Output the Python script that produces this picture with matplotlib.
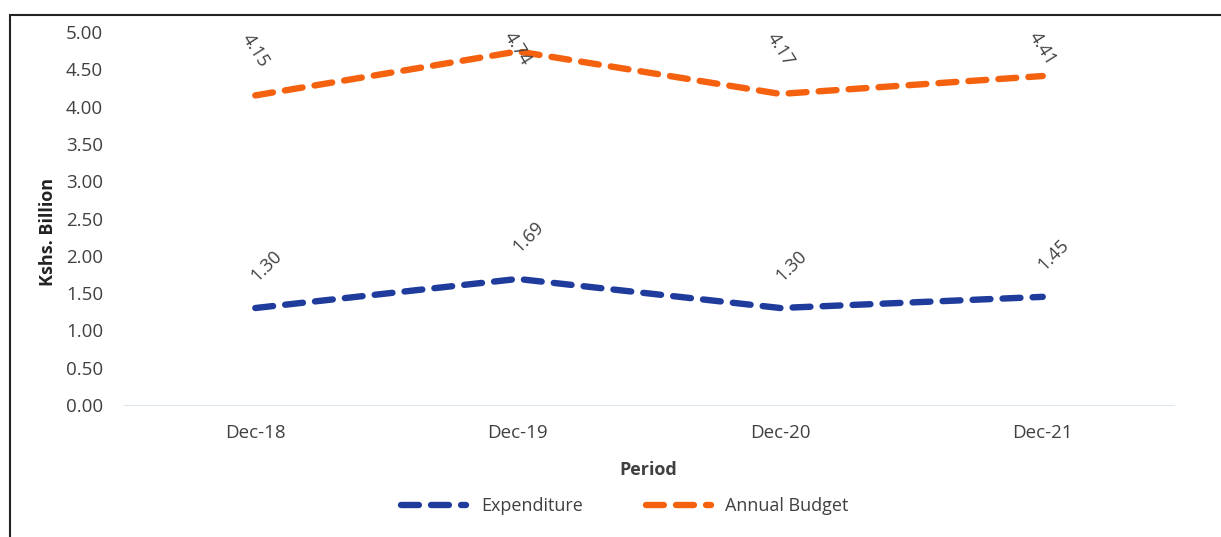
import matplotlib.pyplot as plt
from matplotlib.patches import Rectangle

periods = ['Dec-18', 'Dec-19', 'Dec-20', 'Dec-21']
expenditure = [1.30, 1.69, 1.30, 1.45]
budget = [4.15, 4.74, 4.17, 4.41]

blue = '#1f3c9c'
orange = '#f5620f'
grey = '#404040'

plt.rcParams['font.family'] = ['Open Sans', 'DejaVu Sans']

fig = plt.figure(figsize=(12.21, 5.37), dpi=100)
ax = fig.add_axes([0.1016, 0.2458, 0.8599, 0.6946])

x = list(range(len(periods)))
dash = (0, (2.8, 1.9))
ax.plot(x, expenditure, color=blue, lw=4.6, ls=dash, dash_capstyle='round', label='Expenditure')
ax.plot(x, budget, color=orange, lw=4.6, ls=dash, dash_capstyle='round', label='Annual Budget')

# data labels
for i, v in enumerate(expenditure):
    ax.annotate(f'{v:.2f}', (i, v), xytext=(8, 30), textcoords='offset points',
                rotation=45, ha='center', va='center', fontsize=13, color=grey)
for i, v in enumerate(budget):
    ax.annotate(f'{v:.2f}', (i, min(v + 0.6, 4.78)), ha='center', va='center',
                rotation=-58, fontsize=13, color=grey)

ax.set_xlim(-0.5, 3.5)
ax.set_ylim(0, 5)
ax.set_yticks([i * 0.5 for i in range(11)])
ax.set_yticklabels([f'{i * 0.5:.2f}' for i in range(11)])
ax.set_xticks(x)
ax.set_xticklabels(periods)
ax.tick_params(length=0, labelsize=13.5, labelcolor=grey)
ax.tick_params(axis='x', pad=14)
ax.tick_params(axis='y', pad=15)
for s in ['top', 'right', 'left']:
    ax.spines[s].set_visible(False)
ax.spines['bottom'].set_color('#dbe6ee')
ax.spines['bottom'].set_linewidth(0.8)

ax.set_xlabel('Period', fontsize=13, fontweight='bold', color=grey)
ax.set_ylabel('Kshs. Billion', fontsize=13, fontweight='bold', color='#222222')
ax.xaxis.set_label_coords(0.499, -0.15)
ax.yaxis.set_label_coords(-0.064, 0.464)

fig.legend(loc='center', bbox_to_anchor=(625 / 1221, 1 - 506 / 537), ncol=2,
           frameon=False, fontsize=13, handlelength=3.6, columnspacing=3.5,
           labelcolor=grey)

fig.patches.append(Rectangle((10 / 1221, -0.1), 2, 1 - 15 / 537 + 0.1, fill=False,
                             lw=1.5, edgecolor='#222222', transform=fig.transFigure))

fig.savefig('out.png', dpi=100)
